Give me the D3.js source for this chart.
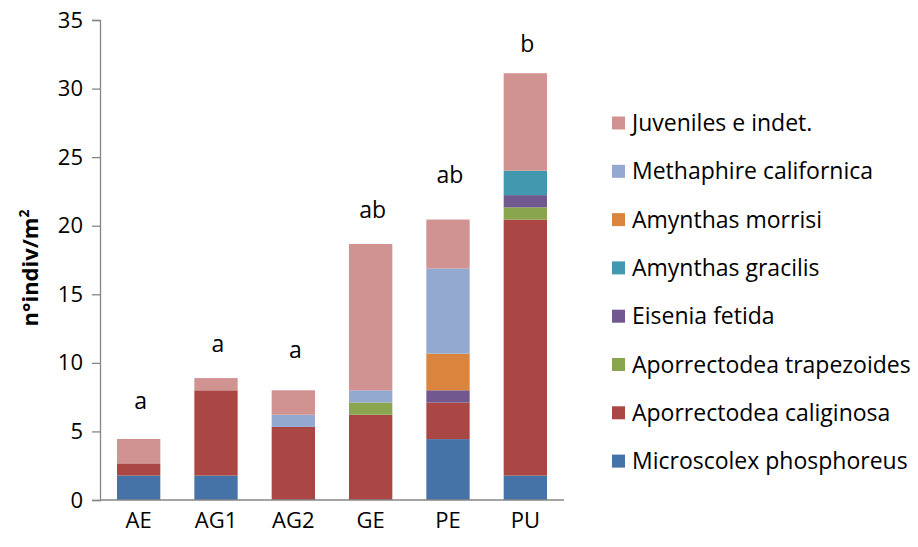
<!DOCTYPE html>
<html>
<head>
<meta charset="utf-8">
<script src="https://cdn.jsdelivr.net/npm/d3@7"></script>
<style>
  html, body { margin: 0; padding: 0; background: #ffffff; }
  svg { display: block; font-family: "Open Sans", Lato, sans-serif; }
</style>
</head>
<body>
<svg id="chart" width="918" height="547"></svg>
<script>
// ---- data ----
const categories = ["AE", "AG1", "AG2", "GE", "PE", "PU"];
const seriesNames = [
  "Microscolex phosphoreus",
  "Aporrectodea caliginosa",
  "Aporrectodea trapezoides",
  "Eisenia fetida",
  "Amynthas gracilis",
  "Amynthas morrisi",
  "Methaphire californica",
  "Juveniles e indet."
];
const microscolex   = [1.78, 1.78, 0,    0,     4.44, 1.78];
const caliginosa    = [0.89, 6.22, 5.33, 6.22,  2.67, 18.67];
const trapezoides   = [0,    0,    0,    0.89,  0,    0.89];
const eisenia       = [0,    0,    0,    0,     0.89, 0.89];
const gracilis      = [0,    0,    0,    0,     0,    1.78];
const morrisi       = [0,    0,    0,    0,     2.67, 0];
const californica   = [0,    0,    0.89, 0.89,  6.22, 0];
const juveniles     = [1.78, 0.89, 1.78, 10.67, 3.56, 7.11];
const seriesValues = [microscolex, caliginosa, trapezoides, eisenia, gracilis, morrisi, californica, juveniles];
const seriesColors = ["#4572A7", "#AA4643", "#89A54E", "#71588F", "#4198AF", "#DB843D", "#93A9CF", "#D19392"];
const letterLabels = ["a", "a", "a", "ab", "ab", "b"];
const letterY      = [6.64, 10.8, 10.36, 20.57, 23.1, 32.7];   // baseline in data units
const yTicks = [0, 5, 10, 15, 20, 25, 30, 35];
const yTitle = "n°indiv/m";

// ---- layout ----
const svg = d3.select("#chart");
const plot = { left: 100, right: 564, top: 20, bottom: 500 };

const x = d3.scaleBand().domain(categories).range([plot.left, plot.right]).paddingInner(0.44).paddingOuter(0.22);
const y = d3.scaleLinear().domain([0, 35]).range([plot.bottom, plot.top]);

// stack
const rows = categories.map((c, i) => {
  const r = { cat: c };
  seriesNames.forEach((s, j) => r[s] = seriesValues[j][i]);
  return r;
});
const stacked = d3.stack().keys(seriesNames)(rows);
const color = d3.scaleOrdinal().domain(seriesNames).range(seriesColors);

svg.append("g").selectAll("g").data(stacked).join("g")
  .attr("fill", d => color(d.key))
  .selectAll("rect").data(d => d.filter(p => p[1] - p[0] > 0)).join("rect")
  .attr("x", d => x(d.data.cat))
  .attr("width", x.bandwidth())
  .attr("y", d => y(d[1]))
  .attr("height", d => y(d[0]) - y(d[1]));

const FONT = "'Open Sans', Lato, sans-serif";

// y axis
const yAxis = svg.append("g").attr("transform", `translate(${plot.left},0)`)
  .call(d3.axisLeft(y).tickValues(yTicks).tickSize(8).tickPadding(9));
yAxis.select(".domain").attr("stroke", "#868686").attr("stroke-width", 1.3);
yAxis.selectAll(".tick line").attr("stroke", "#868686").attr("stroke-width", 1.3);
yAxis.selectAll(".tick text").attr("font-size", 22).attr("fill", "#000").attr("font-family", FONT);

// x axis
const xAxis = svg.append("g").attr("transform", `translate(0,${plot.bottom})`)
  .call(d3.axisBottom(x).tickSize(0).tickPadding(12));
xAxis.select(".domain").attr("stroke", "#868686").attr("stroke-width", 1.6)
  .attr("d", `M${plot.left},0H${plot.right}`);
xAxis.selectAll(".tick text").attr("font-size", 22).attr("fill", "#000").attr("font-family", FONT);

// y title
const yt = svg.append("text")
  .attr("transform", `translate(38,${(plot.top + plot.bottom) / 2 + 8}) rotate(-90)`)
  .attr("text-anchor", "middle")
  .attr("font-size", 22).attr("font-weight", "bold").attr("fill", "#000");
yt.append("tspan").text(yTitle);
yt.append("tspan").attr("font-size", 14).attr("dy", -9).text("2");

// significance letters
svg.append("g").selectAll("text").data(categories).join("text")
  .attr("x", d => x(d) + x.bandwidth() / 2 + 2)
  .attr("y", (d, i) => y(letterY[i]))
  .attr("text-anchor", "middle")
  .attr("font-size", 23).attr("fill", "#000")
  .text((d, i) => letterLabels[i]);

// legend
const legendOrder = seriesNames.slice().reverse();
const lg = svg.append("g").attr("transform", "translate(612,123)");
const item = lg.selectAll("g").data(legendOrder).join("g")
  .attr("transform", (d, i) => `translate(0,${i * 48.3})`);
item.append("rect").attr("x", 0).attr("y", -6.5).attr("width", 13).attr("height", 13)
  .attr("fill", d => color(d));
item.append("text").attr("x", 20).attr("y", 8).attr("font-size", 23).attr("fill", "#000")
  .text(d => d);
</script>
</body>
</html>
